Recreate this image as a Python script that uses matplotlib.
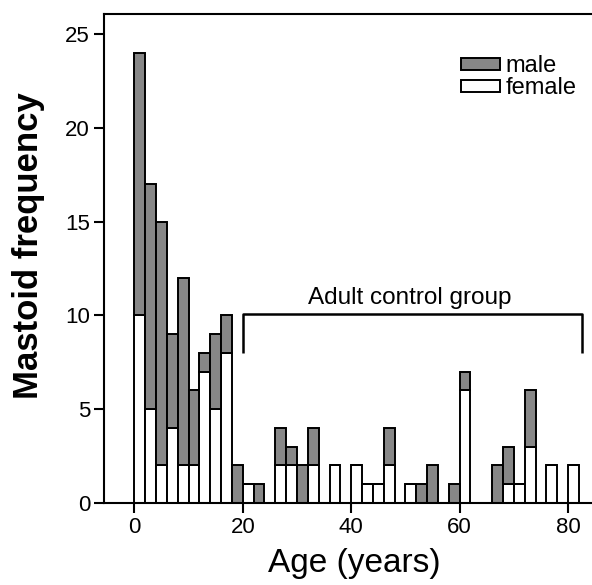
import matplotlib
matplotlib.use("Agg")
import matplotlib.pyplot as plt
from matplotlib.patches import Patch
import numpy as np

plt.rcParams['font.family'] = ['Liberation Sans', 'DejaVu Sans']

# Age bins (start of each 2-year bin)
bin_start = list(range(0, 82, 2))
female = [10, 5, 2, 4, 2, 2, 7, 5, 8, 0,
          1, 0, 0, 2, 2, 0, 2, 0, 2, 0,
          2, 1, 1, 2, 0, 1, 0, 0, 0, 0,
          6, 0, 0, 0, 1, 1, 3, 0, 2, 0,
          2]
male = [14, 12, 13, 5, 10, 4, 1, 4, 2, 2,
        0, 1, 0, 2, 1, 2, 2, 0, 0, 0,
        0, 0, 0, 2, 0, 0, 1, 2, 0, 1,
        1, 0, 0, 2, 2, 0, 3, 0, 0, 0,
        0]
bin_width = 2
x_ticks = [0, 20, 40, 60, 80]
y_ticks = [0, 5, 10, 15, 20, 25]

fig = plt.figure(figsize=(5.92, 5.85), dpi=100)
ax = fig.add_axes([104/592, 82/585, 1.02 - 104/592, (503-14)/585])

x = np.array(bin_start)
f = np.array(female)
m = np.array(male)

ax.bar(x, f, width=bin_width, align='edge', color='white', edgecolor='black', linewidth=1.4)
ax.bar(x, m, width=bin_width, bottom=f, align='edge', color='#878787', edgecolor='black', linewidth=1.4)

ax.set_xlim(-5.6, 86.6)
ax.set_ylim(0, 26.07)
ax.set_xticks(x_ticks)
ax.set_yticks(y_ticks)
ax.tick_params(axis='both', direction='out', length=7, width=1.5, labelsize=16, pad=3)
for s in ax.spines.values():
    s.set_linewidth(1.5)
ax.spines['right'].set_visible(False)

ax.set_xlabel('Age (years)', fontsize=24, labelpad=7)
ax.set_ylabel('Mastoid frequency', fontsize=25, fontweight='bold')
ax.yaxis.set_label_coords(-0.118, 0.527)

# Bracket for adult control group
ax.plot([20, 20, 82.6, 82.6], [8.0, 10.1, 10.1, 8.0], color='black', lw=1.8, solid_capstyle='butt')
ax.text(50.8, 10.35, 'Adult control group', ha='center', va='bottom', fontsize=17.5)

handles = [Patch(facecolor='#878787', edgecolor='black', linewidth=1.4, label='male'),
           Patch(facecolor='white', edgecolor='black', linewidth=1.4, label='female')]
ax.legend(handles=handles, loc='upper right', bbox_to_anchor=(0.965, 0.935), frameon=False,
          fontsize=17, handlelength=1.65, handleheight=0.42, handletextpad=0.25,
          labelspacing=0.0, borderaxespad=0)

fig.savefig('out.png', dpi=100)
